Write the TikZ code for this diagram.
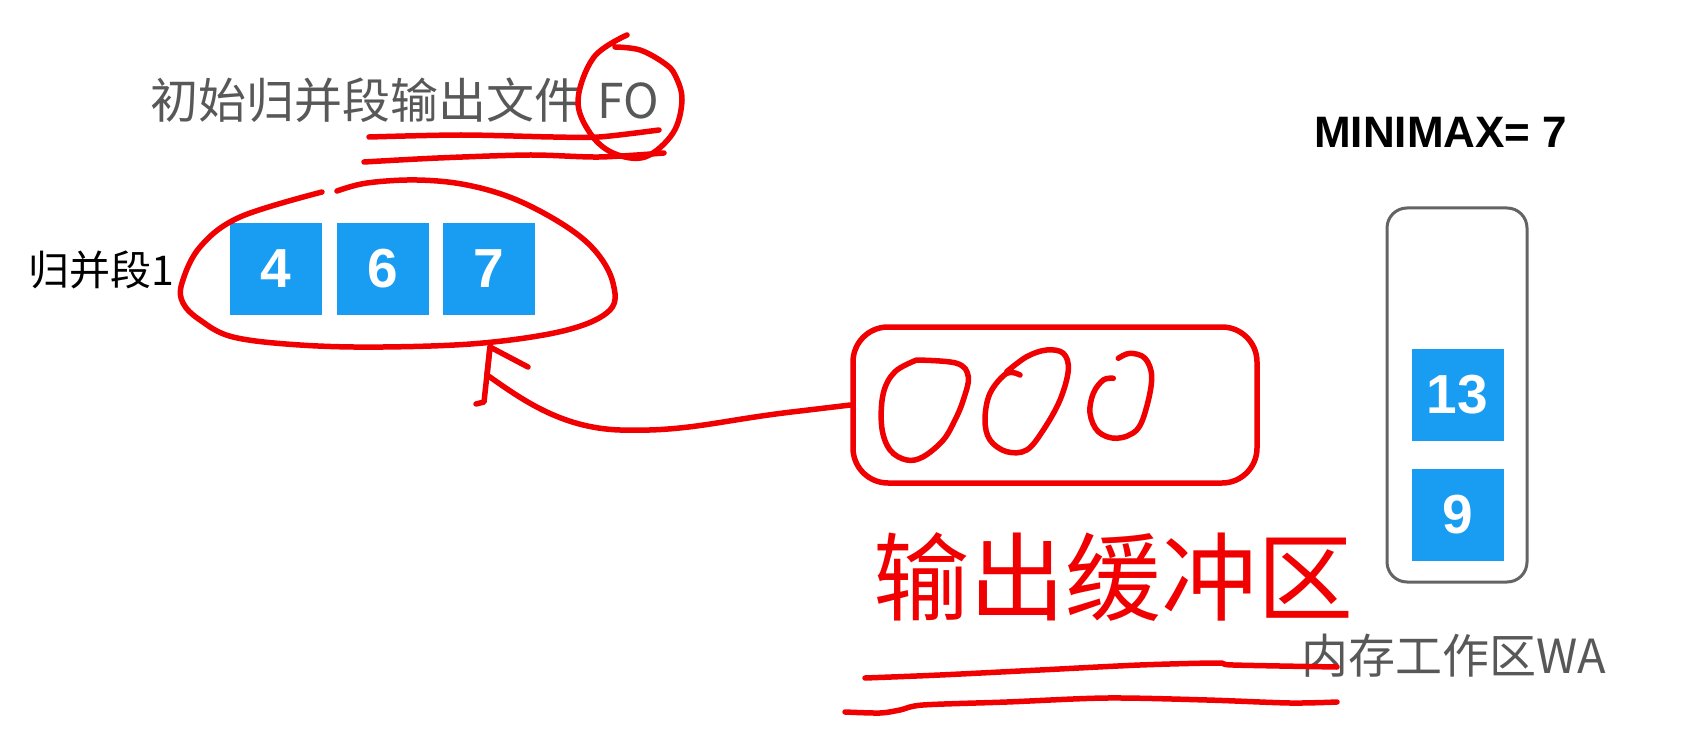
\documentclass[tikz,border=0pt]{standalone}
\usepackage{fontspec}
\newfontfamily\cjk{Noto Sans CJK SC}
\newfontfamily\arl{Liberation Sans}
\definecolor{hred}{RGB}{240,0,0}
\definecolor{kblue}{RGB}{24,157,242}
\definecolor{tgray}{RGB}{88,88,88}
\definecolor{bgray}{RGB}{100,100,100}
\begin{document}
\begin{tikzpicture}[x=1pt,y=-1pt,
  hand/.style={hred, line width=5.5pt, line cap=round, line join=round},
  cell/.style={fill=kblue, minimum width=92pt, minimum height=92pt, inner sep=0pt,
    text=white, font=\arl\bfseries\fontsize{55pt}{60pt}\selectfont},
  lbl/.style={inner sep=0pt, anchor=west}]
\useasboundingbox (0,0) rectangle (1694,738);

% texts
\node[lbl, text=tgray, font=\cjk\fontsize{48pt}{56pt}\selectfont] (title) at (150,100) {初始归并段输出文件\hspace{15pt}FO};
\node[lbl, text=black, font=\cjk\fontsize{41pt}{48pt}\selectfont] (seg) at (28,270) {归并段1};
\node[lbl, text=black, font=\arl\bfseries\fontsize{44pt}{50pt}\selectfont] (mm) at (1314,132) {MINIMAX= 7};
\node[lbl, text=tgray, font=\cjk\fontsize{47pt}{54pt}\selectfont] (walbl) at (1301,656) {内存工作区WA};
\node[lbl, text=hred, font=\cjk\fontsize{96pt}{110pt}\selectfont] (obuf) at (873,577) {输出缓冲区};

% work area
\node[draw=bgray, line width=3pt, rounded corners=20pt, minimum width=140pt, minimum height=374pt, inner sep=0pt] (wa) at (1457,395) {};
\node[cell] (b13) at (1457.5,395) {13};
\node[cell] (b9) at (1457.5,515) {9};

% merge segment
\node[cell] (b4) at (275.5,269) {4};
\node[cell] (b6) at (382.5,269) {6};
\node[cell] (b7) at (489,269) {7};

% output buffer
\node[hand, draw, rounded corners=35pt, minimum width=404pt, minimum height=156pt, inner sep=0pt] (buf) at (1055,405) {};
\draw[hand] plot[smooth, tension=0.6] coordinates {(916.7,360) (956.7,363.3) (968.3,376.7) (963.3,400) (955,420) (943.3,440) (923.3,456.7) (906.7,460) (890,450) (881.7,426.7) (883.3,393.3) (895,371.7) (916.7,360)};
\draw[hand] plot[smooth, tension=0.6] coordinates {(1020,375) (1006.7,373.3) (990,393.3) (985,420) (990,440) (1006.7,451.7) (1026.7,450) (1043.3,430) (1060,400) (1068.3,370) (1063.3,353.3) (1046.7,350) (1026.7,356.7) (1006.7,371.7)};
\draw[hand] plot[smooth, tension=0.6] coordinates {(1113.3,378.3) (1103.3,380) (1093.3,393.3) (1090,413.3) (1098.3,431.7) (1116.7,438.3) (1136.7,430) (1146.7,406.7) (1151.7,376.7) (1145,358.3) (1130,353.3) (1118.3,358.3)};

% red ellipse around segment
\draw[hand] plot[smooth, tension=0.6] coordinates {(322,192) (240,217) (200,247) (182,283) (183,303) (200,320) (233,337) (300,345) (383,347) (483,343) (567,330) (610,310) (613,283) (597,253) (567,227) (517,200) (467,185) (417,180) (367,183) (337,191)};

% circle around FO and underlines
\draw[hand] plot[smooth, tension=0.6] coordinates {(627,35) (594,57) (578,100) (590,133) (613,153) (645,157) (673,133) (682,100) (675,75) (664,63) (640,50) (615,47)};
\draw[hand] plot[smooth, tension=0.5] coordinates {(369,137) (461,135) (553,137) (599,137) (659,130)};
\draw[hand] plot[smooth, tension=0.5] coordinates {(364,162) (438,158) (530,155) (599,157) (664,153)};

% underlines of handwriting
\draw[hand] plot[smooth, tension=0.5] coordinates {(865,678) (940,675) (1040,670) (1140,665) (1217,663) (1233,665) (1337,667)};
\draw[hand] plot[smooth, tension=0.5] coordinates {(845,712) (880,713) (900,710) (923,705) (1007,702) (1107,698) (1207,700) (1290,703) (1337,702)};

% arrow from buffer to segment
\coordinate (tip) at (490,347);
\draw[hand] (buf.west) -- (800,411) .. controls (720,420) and (690,432) .. (620,430)
  .. controls (560,428) and (520,398) .. (487,375) -- (tip);
\draw[hand] (tip) -- (528,367);
\draw[hand] (tip) -- (484,402) -- (476,404);
\end{tikzpicture}
\end{document}
